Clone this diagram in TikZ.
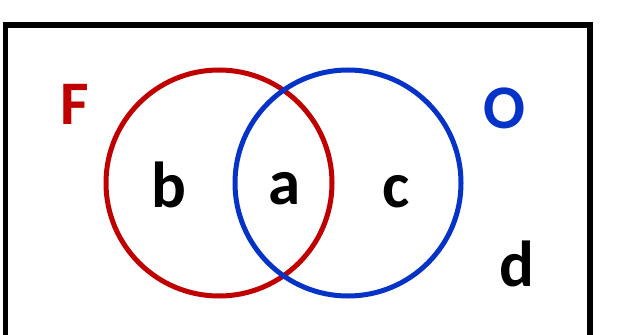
\documentclass[tikz,border=0pt]{standalone}
\usepackage{fontspec}
\setmainfont{Carlito}
\definecolor{fred}{HTML}{C00000}
\definecolor{oblue}{HTML}{0533C8}
\begin{document}
\begin{tikzpicture}[x=1pt,y=-1pt,
  lab/.style={inner sep=0pt,font=\bfseries\fontsize{65}{65}\selectfont},
  big/.style={inner sep=0pt,font=\bfseries\fontsize{62}{62}\selectfont},
  ring/.style={line width=5pt}]
\useasboundingbox (0,0) rectangle (617,334);
\draw[line width=5.5pt] (5.3,345) -- (5.3,25) -- (590,25) -- (590,345);
\node[draw=fred,ring,circle,minimum size=226pt,inner sep=0pt] (F) at (219,183) {};
\node[draw=oblue,ring,circle,minimum size=226pt,inner sep=0pt] (O) at (348,183) {};
\node[big,text=fred] (lf) at (75,104) {F};
\node[big,text=oblue] (lo) at (504,108) {O};
\node[lab] (lb) at (169,185) {b};
\node[lab] (la) at (285,188.5) {a};
\node[lab] (lc) at (396,192) {c};
\node[lab] (ld) at (516.5,263.5) {d};
\end{tikzpicture}
\end{document}
